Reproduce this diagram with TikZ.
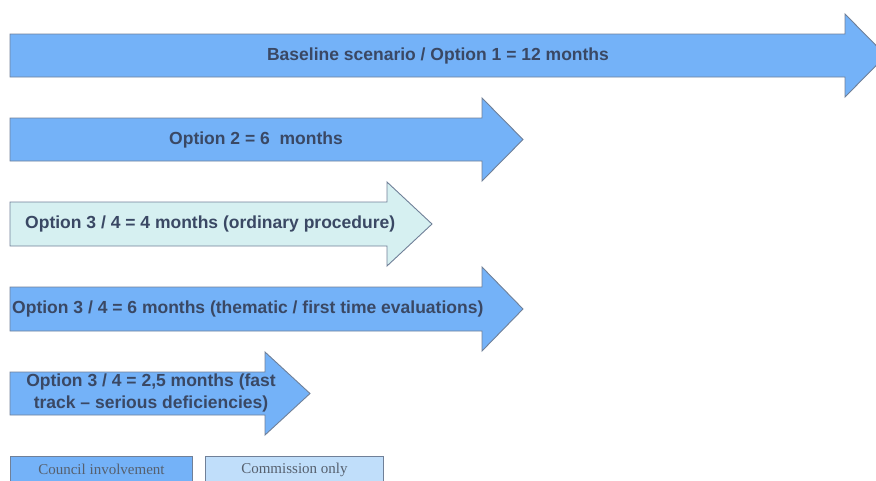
\documentclass[tikz,border=0pt]{standalone}
\usepackage{fontspec}
\setmainfont{Liberation Serif}
\setsansfont{Liberation Sans}
\definecolor{arrowblue}{RGB}{116,178,248}
\definecolor{arrowcyan}{RGB}{214,240,241}
\definecolor{commblue}{RGB}{192,222,250}
\definecolor{edgegrey}{RGB}{112,128,152}
\definecolor{labelink}{RGB}{58,72,100}
\definecolor{legendink}{RGB}{86,96,110}
\tikzset{
  arrowline/.style={draw=edgegrey, line width=0.9pt, line join=miter},
  optlabel/.style={font=\sffamily\bfseries\fontsize{17.5}{22}\selectfont, text=labelink, inner sep=0pt},
  legendbox/.style={draw=edgegrey, line width=0.9pt, minimum height=26pt, inner sep=0pt,
    font=\rmfamily\fontsize{15}{17}\selectfont, text=legendink}
}
\begin{document}
\begin{tikzpicture}[x=1pt,y=-1pt]
  \useasboundingbox (0,0) rectangle (876,480);
  \clip (0,0) rectangle (876,480);

  \def\xs{10}  %left end of every arrow
  \def\hh{20}  %overhang of the head above and below the body

  %ARROWS: top of body / bottom of body / base of head / tip / fill
  \foreach \yt/\yb/\xh/\xt/\col in {34/77/845/886/arrowblue,
                                    118/161/482/523/arrowblue,
                                    202/246/387/432/arrowcyan,
                                    287/331/482/523/arrowblue,
                                    372/415/265/310/arrowblue}{
    \draw[arrowline, fill=\col] (\xs,\yt) -- (\xh,\yt) -- (\xh,\yt-\hh)
      -- (\xt,{(\yt+\yb)/2}) -- (\xh,\yb+\hh) -- (\xh,\yb) -- (\xs,\yb) -- cycle;
  } %end of arrow loop

  %LABELS
  \node[optlabel] (base) at (438,56) {Baseline scenario / Option 1 = 12 months};
  \node[optlabel] (opt2) at (256,140) {Option 2 = 6 \ months};
  \node[optlabel, anchor=west] (opt34a) at (25,224) {Option 3 / 4 = 4 months (ordinary procedure)};
  \node[optlabel, anchor=west] (opt34b) at (12,309) {Option 3 / 4 = 6 months (thematic / first time evaluations)};
  \node[optlabel, align=center] (opt34c) at (151,393) {Option 3 / 4 = 2,5 months (fast\\track -- serious deficiencies)};

  %LEGEND
  \node[legendbox, fill=arrowblue, minimum width=182pt, anchor=north west] (council) at (10,456) {Council involvement};
  \node[legendbox, fill=commblue, minimum width=178pt, anchor=north west] (commission) at (205,456) {Commission only};
\end{tikzpicture}
\end{document}
